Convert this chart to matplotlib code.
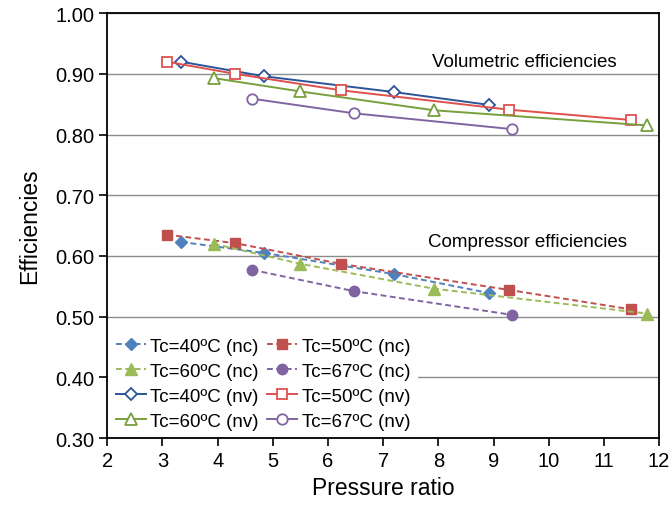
import matplotlib.pyplot as plt

plt.rcParams['font.family'] = ['Liberation Sans', 'DejaVu Sans']

# pressure ratios for each condensing temperature
x40 = [3.34, 4.84, 7.20, 8.91]
x50 = [3.08, 4.32, 6.23, 9.28, 11.49]
x60 = [3.93, 5.50, 7.92, 11.79]
x67 = [4.63, 6.47, 9.33]

# compressor efficiencies (nc)
nc40 = [0.623, 0.605, 0.570, 0.539]
nc50 = [0.635, 0.621, 0.587, 0.544, 0.512]
nc60 = [0.620, 0.587, 0.546, 0.505]
nc67 = [0.577, 0.542, 0.503]

# volumetric efficiencies (nv)
nv40 = [0.920, 0.896, 0.870, 0.849]
nv50 = [0.920, 0.900, 0.873, 0.841, 0.824]
nv60 = [0.893, 0.871, 0.840, 0.815]
nv67 = [0.859, 0.835, 0.809]

fig = plt.figure(figsize=(6.72, 5.10), dpi=100)
ax = fig.add_axes([0.1597, 0.1392, 0.821, 0.833])

ms = 7.5
dash = (3, 1.8)
h = {}
h['40nc'], = ax.plot(x40, nc40, '--', dashes=dash, color='#4F81BD', lw=1.4, marker='D', ms=6.5,
                     label='Tc=40ºC (nc)')
h['50nc'], = ax.plot(x50, nc50, '--', dashes=dash, color='#C0504D', lw=1.4, marker='s', ms=ms,
                     label='Tc=50ºC (nc)')
h['60nc'], = ax.plot(x60, nc60, '--', dashes=dash, color='#9BBB59', lw=1.4, marker='^', ms=8,
                     label='Tc=60ºC (nc)')
h['67nc'], = ax.plot(x67, nc67, '--', dashes=dash, color='#8064A2', lw=1.4, marker='o', ms=ms,
                     label='Tc=67ºC (nc)')
h['40nv'], = ax.plot(x40, nv40, '-', color='#2C5499', lw=1.4, marker='D', ms=6.5,
                     mfc='white', mew=1.3, label='Tc=40ºC (nv)')
h['50nv'], = ax.plot(x50, nv50, '-', color='#E0504D', lw=1.4, marker='s', ms=ms,
                     mfc='white', mew=1.3, label='Tc=50ºC (nv)')
h['60nv'], = ax.plot(x60, nv60, '-', color='#77A03C', lw=1.4, marker='^', ms=8,
                     mfc='white', mew=1.3, label='Tc=60ºC (nv)')
h['67nv'], = ax.plot(x67, nv67, '-', color='#8064A2', lw=1.4, marker='o', ms=ms,
                     mfc='white', mew=1.3, label='Tc=67ºC (nv)')

ax.text(9.55, 0.921, 'Volumetric efficiencies', fontsize=13.5, ha='center', va='center')
ax.text(9.62, 0.624, 'Compressor efficiencies', fontsize=13.5, ha='center', va='center')

ax.set_xlim(2, 12)
ax.set_ylim(0.30, 1.00)
ax.set_xticks(range(2, 13))
ax.set_yticks([0.3 + 0.1 * i for i in range(8)])
ax.set_yticklabels(['%.2f' % (0.3 + 0.1 * i) for i in range(8)])
ax.tick_params(labelsize=14.5, direction='out', length=6, width=1.2, color='black')
ax.grid(axis='y', color='#8C8C8C', lw=1)
ax.set_axisbelow(True)
for s in ax.spines.values():
    s.set_linewidth(1.3)
    s.set_color('black')

ax.set_xlabel('Pressure ratio', fontsize=16.5, labelpad=4)
ax.set_ylabel('Efficiencies', fontsize=16.5, labelpad=10)

order = ['40nc', '60nc', '40nv', '60nv', '50nc', '67nc', '50nv', '67nv']
leg = ax.legend([h[k] for k in order], [h[k].get_label() for k in order],
                ncol=2, loc='lower left', fontsize=13.5, frameon=True,
                facecolor='white', edgecolor='none', framealpha=1, fancybox=False,
                handlelength=1.6, handletextpad=0.25, columnspacing=0.45,
                labelspacing=0.42, borderaxespad=0.05, borderpad=0.4)

fig.savefig('out.png', dpi=100)
